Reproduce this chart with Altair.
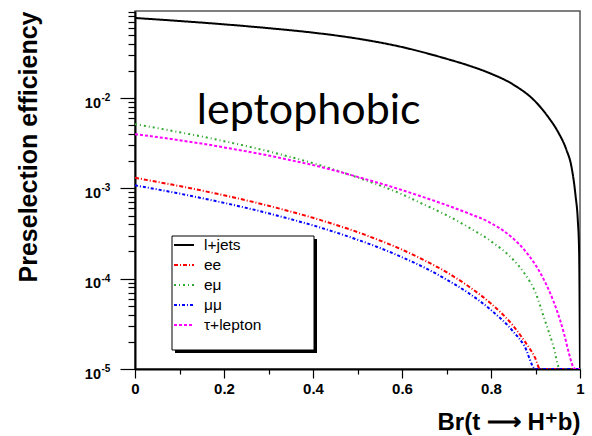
import altair as alt
import pandas as pd

# ---------------- data ----------------
series_names = ["l+jets", "ee", "eμ", "μμ", "τ+lepton"]
series_colors = ["#000000", "#ff0000", "#33a833", "#0000ff", "#ff00ff"]
series_dashes = [[1, 0], [4, 2, 1, 2], [2, 3, 1, 3], [3, 2, 1, 2], [3, 2]]

ljets_x = [0.0, 0.1, 0.2, 0.3, 0.4, 0.5, 0.6, 0.7, 0.75, 0.8, 0.85, 0.9, 0.93, 0.95, 0.97, 0.98, 0.99, 0.995,
           0.998, 1.0]
ljets_y = [0.0770, 0.0713, 0.0655, 0.0594, 0.0530, 0.0455, 0.0367, 0.0272, 0.0229, 0.0186, 0.0141, 0.00912,
           0.00603, 0.00427, 0.00263, 0.00182, 0.00083, 0.00045, 0.00020, 1e-5]

ee_x = [0.0, 0.05, 0.1, 0.15, 0.2, 0.25, 0.3, 0.35, 0.4, 0.45, 0.5, 0.55, 0.6, 0.65, 0.7, 0.75, 0.8, 0.85,
        0.875, 0.9, 0.91, 1.0]
ee_y = [1.31e-3, 1.18e-3, 1.06e-3, 9.46e-4, 8.38e-4, 7.37e-4, 6.42e-4, 5.53e-4, 4.72e-4, 3.96e-4, 3.28e-4,
        2.65e-4, 2.10e-4, 1.60e-4, 1.18e-4, 8.2e-5, 5.3e-5, 3.0e-5, 2.05e-5, 1.3e-5, 1.0e-5, 1.0e-5]

emu_x = [0.0, 0.05, 0.1, 0.15, 0.2, 0.25, 0.3, 0.35, 0.4, 0.45, 0.5, 0.55, 0.6, 0.65, 0.7, 0.75, 0.8, 0.85,
         0.875, 0.9, 0.92, 0.94, 0.955, 1.0]
emu_y = [5.13e-3, 4.65e-3, 4.18e-3, 3.75e-3, 3.33e-3, 2.94e-3, 2.57e-3, 2.22e-3, 1.90e-3, 1.60e-3, 1.32e-3,
         1.08e-3, 8.6e-4, 6.6e-4, 5.05e-4, 3.7e-4, 2.6e-4, 1.62e-4, 1.15e-4, 7.0e-5, 3.6e-5, 1.8e-5, 1.0e-5,
         1.0e-5]

mumu_x = [0.0, 0.05, 0.1, 0.15, 0.2, 0.25, 0.3, 0.35, 0.4, 0.45, 0.5, 0.55, 0.6, 0.65, 0.7, 0.75, 0.8, 0.85,
          0.875, 0.9, 1.0]
mumu_y = [1.08e-3, 9.75e-4, 8.75e-4, 7.80e-4, 6.91e-4, 6.08e-4, 5.29e-4, 4.56e-4, 3.89e-4, 3.27e-4, 2.70e-4,
          2.19e-4, 1.73e-4, 1.33e-4, 9.8e-5, 6.9e-5, 4.5e-5, 2.6e-5, 1.8e-5, 1.0e-5, 1.0e-5]

taulep_x = [0.0, 0.05, 0.1, 0.15, 0.2, 0.25, 0.3, 0.35, 0.4, 0.45, 0.5, 0.55, 0.6, 0.65, 0.7, 0.75, 0.8, 0.85,
            0.875, 0.9, 0.92, 0.94, 0.955, 0.965, 0.975, 0.985, 0.99, 1.0]
taulep_y = [3.98e-3, 3.70e-3, 3.41e-3, 3.13e-3, 2.84e-3, 2.57e-3, 2.31e-3, 2.05e-3, 1.81e-3, 1.57e-3, 1.34e-3,
            1.14e-3, 9.57e-4, 7.94e-4, 6.53e-4, 5.27e-4, 4.12e-4, 2.78e-4, 2.08e-4, 1.42e-4, 9.5e-5, 5.69e-5,
            3.51e-5, 2.37e-5, 1.50e-5, 1.05e-5, 1.0e-5, 1.0e-5]

y_major = [1e-5, 1e-4, 1e-3, 1e-2]
y_major_exp = ["-5", "-4", "-3", "-2"]
y_ticks = [m * d for d in [1e-5, 1e-4, 1e-3, 1e-2] for m in range(1, 10) if m * d <= 0.092]
x_ticks = [0.0, 0.05, 0.1, 0.15, 0.2, 0.25, 0.3, 0.35, 0.4, 0.45, 0.5, 0.55, 0.6, 0.65, 0.7, 0.75, 0.8, 0.85,
           0.9, 0.95, 1.0]

note_x = [0.139]
note_y = [5.2e-3]
note_text = ["leptophobic"]

FONT = "Liberation Sans"

# ---------------- build table ----------------
rows = []
for name, xs, ys in [
    ("l+jets", ljets_x, ljets_y),
    ("ee", ee_x, ee_y),
    ("eμ", emu_x, emu_y),
    ("μμ", mumu_x, mumu_y),
    ("τ+lepton", taulep_x, taulep_y),
]:
    for i, (a, b) in enumerate(zip(xs, ys)):
        rows.append({"series": name, "br": a, "eff": b, "idx": i})
df = pd.DataFrame(rows)

x_scale = alt.Scale(domain=[0, 1], nice=False, zero=False)
y_scale = alt.Scale(type="log", domain=[1e-5, 0.092], nice=False)

major_x_test = "abs(datum.value*5 - round(datum.value*5)) < 1e-6"
major_y_test = "abs(log(datum.value)/LN10 - round(log(datum.value)/LN10)) < 1e-6"

x_axis = alt.Axis(
    values=x_ticks,
    title="Br(t ⟶ H⁺b)",
    titleFont=FONT, titleFontSize=24, titleFontWeight="bold", titleColor="black",
    titleAnchor="end", titlePadding=14,
    labelExpr=f"{major_x_test} ? format(datum.value, '~g') : ''",
    labelFont=FONT, labelFontSize=15, labelFontWeight="bold", labelColor="black", labelPadding=3,
    labelFlush=False, labelOverlap=False,
    tickSize={"condition": {"test": major_x_test, "value": 9}, "value": 5},
    tickColor="black", tickWidth=1.2,
    domainColor="black", domainWidth=2, grid=False,
)
y_axis = alt.Axis(
    values=y_ticks,
    labels=False,
    title="Preselection efficiency",
    titleFont=FONT, titleFontSize=25, titleFontWeight="bold", titleColor="black",
    titleAnchor="end", titlePadding=78,
    tickSize={"condition": {"test": major_y_test, "value": 15}, "value": 7},
    tickColor="black", tickWidth=1.2,
    domainColor="black", domainWidth=2, grid=False,
)

legend_cfg = dict(
    title=None, orient="none", legendX=38, legendY=223,
    symbolType="stroke", symbolSize=400, symbolStrokeWidth=1.8,
    labelFont=FONT, labelFontSize=15.5, labelColor="black", labelOffset=9,
    rowPadding=0, padding=0,
)

lines = alt.Chart(df).mark_line(strokeWidth=2, interpolate="monotone", clip=True).encode(
    x=alt.X("br:Q", scale=x_scale, axis=x_axis),
    y=alt.Y("eff:Q", scale=y_scale, axis=y_axis),
    color=alt.Color("series:N", scale=alt.Scale(domain=series_names, range=series_colors),
                    legend=alt.Legend(**legend_cfg)),
    strokeDash=alt.StrokeDash("series:N", scale=alt.Scale(domain=series_names, range=series_dashes),
                              legend=alt.Legend(**legend_cfg)),
    order=alt.Order("idx:Q"),
)

box_df = pd.DataFrame({"k": [0]})
shadow = alt.Chart(box_df).mark_rect(fill="black").encode(
    x=alt.value(40), x2=alt.value(182), y=alt.value(228), y2=alt.value(342)
)
box = alt.Chart(box_df).mark_rect(fill="white", stroke="black", strokeWidth=1).encode(
    x=alt.value(37), x2=alt.value(179), y=alt.value(225), y2=alt.value(339)
)

ylab_df = pd.DataFrame({"v": y_major, "e": y_major_exp})
ylab_base = alt.Chart(ylab_df).mark_text(
    font=FONT, fontSize=14.5, fontWeight="bold", align="right", baseline="alphabetic", dy=9.5, color="black"
).encode(x=alt.value(-34), y=alt.Y("v:Q", scale=y_scale), text=alt.value("10"))
ylab_exp = alt.Chart(ylab_df).mark_text(
    font=FONT, fontSize=10, fontWeight="bold", align="left", baseline="alphabetic", dy=3, color="black"
).encode(x=alt.value(-33.5), y=alt.Y("v:Q", scale=y_scale), text="e:N")

note_df = pd.DataFrame({"x": note_x, "y": note_y, "t": note_text})
note = alt.Chart(note_df).mark_text(
    font="Lato", fontSize=43, align="left", baseline="alphabetic", color="black"
).encode(x=alt.X("x:Q", scale=x_scale), y=alt.Y("y:Q", scale=y_scale), text="t:N")

chart = alt.layer(shadow, box, lines, note, ylab_base, ylab_exp).properties(
    width=445, height=358,
    padding={"left": 135, "top": 11, "right": 12, "bottom": 67},
    autosize=alt.AutoSizeParams(type="none"),
).configure_view(stroke="#555555", strokeWidth=1.5)

chart.save("out.html", embed_options={"renderer": "svg", "actions": False})
